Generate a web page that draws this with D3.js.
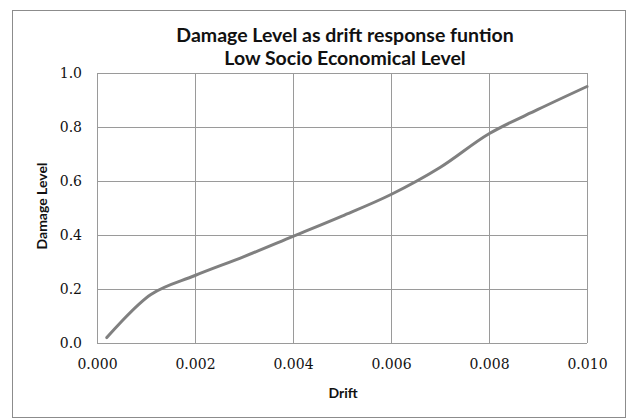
<!DOCTYPE html>
<html>
<head>
<meta charset="utf-8">
<script src="https://cdn.jsdelivr.net/npm/d3@7"></script>
<style>
  body { margin: 0; background: #fff; }
  svg { display: block; }
</style>
</head>
<body>
<div class="chart"></div>
<script>
// values
var drift = [0.0002, 0.0011, 0.002, 0.003, 0.004, 0.005, 0.006, 0.007, 0.008, 0.009, 0.010];
var damage = [0.02, 0.18, 0.25, 0.32, 0.395, 0.47, 0.55, 0.65, 0.775, 0.865, 0.95];
var xTicks = [0, 0.002, 0.004, 0.006, 0.008, 0.010];
var yTicks = [0, 0.2, 0.4, 0.6, 0.8, 1.0];
var titleLines = ["Damage Level as drift response funtion", "Low Socio Economical Level"];

var W = 627, H = 419;
var margin = { left: 97, right: 40, top: 73, bottom: 76 };
var width = W - margin.left - margin.right;
var height = H - margin.top - margin.bottom;

var svg = d3.select(".chart")
    .append("svg")
    .attr("width", W)
    .attr("height", H);

// outer chart frame
svg.append("rect")
    .attr("x", 12.5)
    .attr("y", 10.5)
    .attr("width", 613)
    .attr("height", 407)
    .attr("fill", "#fff")
    .attr("stroke", "#8c8c8c")
    .attr("stroke-width", 1);

var g = svg.append("g")
    .attr("transform", "translate(" + margin.left + "," + margin.top + ")");

var x = d3.scaleLinear().domain([0, 0.010]).range([0, width]);
var y = d3.scaleLinear().domain([0, 1.0]).range([height, 0]);

// gridlines
g.selectAll(".vgrid")
    .data(xTicks)
    .enter()
    .append("line")
    .attr("class", "vgrid")
    .attr("x1", function (d) { return Math.round(x(d)) + 0.5; })
    .attr("x2", function (d) { return Math.round(x(d)) + 0.5; })
    .attr("y1", 0)
    .attr("y2", height)
    .attr("stroke", "#9a9a9a");

g.selectAll(".hgrid")
    .data(yTicks)
    .enter()
    .append("line")
    .attr("class", "hgrid")
    .attr("x1", 0)
    .attr("x2", width)
    .attr("y1", function (d) { return Math.round(y(d)) + 0.5; })
    .attr("y2", function (d) { return Math.round(y(d)) + 0.5; })
    .attr("stroke", "#9a9a9a");

// axes (labels only, lines drawn as grid)
var xAxis = g.append("g")
    .attr("transform", "translate(0," + height + ")")
    .call(d3.axisBottom(x).tickValues(xTicks).tickFormat(d3.format(".3f")).tickSize(0).tickPadding(16));
xAxis.select(".domain").remove();
xAxis.selectAll("text")
    .style("font-family", "'DejaVu Serif', serif")
    .style("font-size", "14px")
    .style("fill", "#111");

var yAxis = g.append("g")
    .call(d3.axisLeft(y).tickValues(yTicks).tickFormat(d3.format(".1f")).tickSize(0).tickPadding(15));
yAxis.select(".domain").remove();
yAxis.selectAll("text")
    .style("font-family", "'DejaVu Serif', serif")
    .style("font-size", "14px")
    .style("fill", "#111");

// the curve
var pts = drift.map(function (d, i) { return [d, damage[i]]; });
var line = d3.line()
    .x(function (d) { return x(d[0]); })
    .y(function (d) { return y(d[1]); })
    .curve(d3.curveCatmullRom.alpha(0.5));

g.append("path")
    .datum(pts)
    .attr("d", line)
    .attr("fill", "none")
    .attr("stroke", "#808080")
    .attr("stroke-width", 3)
    .attr("stroke-linecap", "round");

// titles
svg.selectAll(".title")
    .data(titleLines)
    .enter()
    .append("text")
    .attr("class", "title")
    .attr("x", 345)
    .attr("y", function (d, i) { return 42 + i * 23; })
    .attr("text-anchor", "middle")
    .style("font-family", "Lato, sans-serif")
    .style("font-weight", "700")
    .style("font-size", "19.5px")
    .style("fill", "#111")
    .text(function (d) { return d; });

svg.append("text")
    .attr("x", 343)
    .attr("y", 398)
    .attr("text-anchor", "middle")
    .style("font-family", "Lato, sans-serif")
    .style("font-weight", "700")
    .style("font-size", "14px")
    .style("fill", "#111")
    .text("Drift");

svg.append("text")
    .attr("transform", "rotate(-90)")
    .attr("x", -206)
    .attr("y", 47)
    .attr("text-anchor", "middle")
    .style("font-family", "Lato, sans-serif")
    .style("font-weight", "700")
    .style("font-size", "14px")
    .style("fill", "#111")
    .text("Damage Level");
</script>
</body>
</html>
